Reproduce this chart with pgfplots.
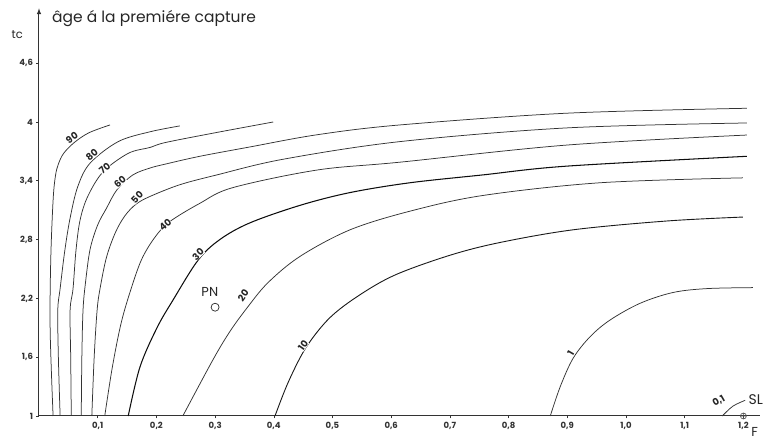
\documentclass[border=0pt]{standalone}
\usepackage{fontspec}
\setmainfont{Poppins}
\usepackage{pgfplots}
\pgfplotsset{compat=1.18}
\begin{document}
\begin{tikzpicture}
\path[use as bounding box] (-39pt,-22pt) rectangle (725pt,416pt);
\begin{axis}[
  at={(0pt,0pt)}, anchor=south west,
  x=587pt, y=98pt,
  xmin=0, xmax=1.228, ymin=1, ymax=5.16,
  axis x line=bottom, axis y line=left,
  x axis line style={-, line width=1pt, black!80},
  y axis line style={-latex, line width=1pt, black!80},
  clip=false,
  xtick={0.1,0.2,0.3,0.4,0.5,0.6,0.7,0.8,0.9,1.0,1.1,1.2},
  xticklabels={{0,1},{0,2},{0,3},{0,4},{0,5},{0,6},{0,7},{0,8},{0,9},{1,0},{1,1},{1,2}},
  ytick={1,1.6,2.2,2.8,3.4,4,4.6},
  yticklabels={1,{1,6},{2,2},{2,8},{3,4},4,{4,6}},
  tick align=outside, major tick length=2.5pt,
  tick style={black!80, line width=0.6pt},
  tick label style={font=\fontsize{8.5}{8.5}\selectfont\bfseries, text=black!80},
  /pgf/number format/assume math mode=true,
  contour/.style={smooth, tension=0.55, line width=0.75pt, draw=black!80, mark=none},
]
% 90
\addplot[contour] coordinates {(0.024,1.00) (0.019,1.88) (0.020,2.59) (0.024,3.20) (0.028,3.45) (0.033,3.57) (0.042,3.68) (0.060,3.79) (0.085,3.89) (0.121,3.97)};
% 80
\addplot[contour] coordinates {(0.036,1.00) (0.033,1.60) (0.032,2.08) (0.036,2.30) (0.044,2.69) (0.053,3.02) (0.066,3.34) (0.087,3.58) (0.135,3.80) (0.189,3.90) (0.240,3.96)};
% 70
\addplot[contour] coordinates {(0.055,1.00) (0.054,1.60) (0.053,2.08) (0.058,2.30) (0.063,2.69) (0.070,3.00) (0.083,3.24) (0.109,3.49) (0.152,3.68) (0.189,3.74) (0.215,3.79) (0.300,3.89) (0.399,4.00)};
% 60
\addplot[contour] coordinates {(0.072,1.00) (0.073,1.60) (0.075,2.08) (0.079,2.35) (0.087,2.70) (0.100,2.95) (0.115,3.12) (0.133,3.31) (0.160,3.46) (0.189,3.53) (0.215,3.57) (0.274,3.65) (0.359,3.745) (0.474,3.87) (0.615,3.97) (0.900,4.09) (1.206,4.14)};
% 50
\addplot[contour] coordinates {(0.090,1.00) (0.094,1.60) (0.099,2.08) (0.104,2.30) (0.115,2.62) (0.130,2.87) (0.146,3.04) (0.165,3.16) (0.189,3.24) (0.240,3.36) (0.303,3.46) (0.416,3.62) (0.615,3.80) (0.900,3.94) (1.206,3.99)};
% 40
\addplot[contour] coordinates {(0.112,1.00) (0.125,1.50) (0.140,1.95) (0.157,2.30) (0.175,2.60) (0.197,2.82) (0.222,2.98) (0.274,3.17) (0.330,3.33) (0.474,3.51) (0.615,3.59) (0.900,3.765) (1.206,3.867)};
% 30
\addplot[contour, line width=1.05pt, draw=black!95] coordinates {(0.152,1.00) (0.172,1.50) (0.201,1.90) (0.228,2.18) (0.271,2.59) (0.308,2.80) (0.359,2.97) (0.445,3.15) (0.530,3.28) (0.632,3.38) (0.756,3.46) (0.900,3.55) (1.206,3.65)};
% 20
\addplot[contour] coordinates {(0.245,1.00) (0.296,1.57) (0.325,1.86) (0.354,2.10) (0.390,2.36) (0.445,2.63) (0.530,2.90) (0.632,3.09) (0.756,3.25) (0.956,3.38) (1.199,3.43)};
% 10
\addplot[contour, line width=0.9pt, draw=black!90] coordinates {(0.402,1.00) (0.425,1.35) (0.455,1.70) (0.495,2.00) (0.545,2.23) (0.607,2.44) (0.700,2.64) (0.785,2.77) (0.910,2.90) (1.070,2.99) (1.199,3.03)};
% 1
\addplot[contour] coordinates {(0.871,1.00) (0.888,1.30) (0.910,1.59) (0.939,1.81) (0.973,1.98) (1.024,2.15) (1.080,2.26) (1.138,2.30) (1.216,2.31)};
% 0,1
\addplot[contour] coordinates {(1.164,1.00) (1.182,1.10) (1.203,1.16)};
% points
\addplot[only marks, mark=*, mark size=4pt, mark options={fill=white, draw=black!85, line width=0.7pt}] coordinates {(0.30,2.11)};
\addplot[only marks, mark=oplus, mark size=3pt, mark options={fill=white, draw=black!70, line width=0.6pt}] coordinates {(1.2,1.0)};
% curve labels
\begin{scope}[every node/.style={font=\fontsize{9.5}{9.5}\selectfont\bfseries, fill=white, inner sep=0.2pt, text=black!85}]
\node[rotate=35] at (axis cs:0.056,3.84) {90};
\node[rotate=40] at (axis cs:0.090,3.66) {80};
\node[rotate=40] at (axis cs:0.112,3.53) {70};
\node[rotate=40] at (axis cs:0.138,3.39) {60};
\node[rotate=45] at (axis cs:0.167,3.23) {50};
\node[rotate=40] at (axis cs:0.215,2.95) {40};
\node[rotate=45] at (axis cs:0.271,2.65) {30};
\node[rotate=55] at (axis cs:0.348,2.23) {20};
\node[rotate=55] at (axis cs:0.450,1.72) {10};
\node[rotate=60] at (axis cs:0.906,1.64) {1};
\node[rotate=30] at (axis cs:1.158,1.15) {0,1};
\end{scope}
\node[anchor=base west, inner sep=0pt, font=\fontsize{15.5}{15.5}\selectfont, text=black!85] at (axis cs:0.022,5.02) {âge á la premiére capture};
\node[font=\fontsize{11.5}{11.5}\selectfont, text=black!85] at (axis cs:-0.037,4.89) {tc};
\node[font=\fontsize{13}{13}\selectfont, text=black!85] at (axis cs:1.219,0.84) {F};
\node[anchor=west, font=\fontsize{14}{14}\selectfont, text=black!85] at (axis cs:1.203,1.17) {SL};
\node[font=\fontsize{13}{13}\selectfont, text=black!85] at (axis cs:0.291,2.27) {PN};
\end{axis}
\end{tikzpicture}
\end{document}
